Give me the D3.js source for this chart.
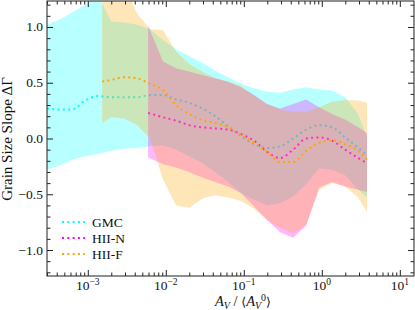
<!DOCTYPE html>
<html>
<head>
<meta charset="utf-8">
<script src="https://cdn.jsdelivr.net/npm/d3@7"></script>
<style>
    body { margin: 0; background: #fff; }
    svg { display: block; font-family: "Liberation Serif", "DejaVu Serif", serif; }
</style>
</head>
<body>
<div id="chart"></div>
<script>
// GMC
const gmcX = [0.00030, 0.000442, 0.00063, 0.000923, 0.001355, 0.00199, 0.00292, 0.00429, 0.0063, 0.00923,
    0.01355, 0.0199, 0.0292, 0.0429, 0.063, 0.0923, 0.1355, 0.199, 0.292, 0.429, 0.63, 0.923, 1.355, 1.99, 2.92, 3.80];
const gmcMean = [0.27, 0.26, 0.26, 0.34, 0.38, 0.37, 0.37, 0.37, 0.39, 0.39,
    0.35, 0.32, 0.27, 0.20, 0.11, 0.02, -0.05, -0.085, -0.07, 0.00, 0.08, 0.12, 0.10, 0.01, -0.08, -0.15];
const gmcHi = [1.02, 1.07, 1.13, 1.20, 1.29, 1.05, 1.04, 1.02, 0.98, 0.88,
    0.80, 0.74, 0.68, 0.61, 0.55, 0.49, 0.45, 0.42, 0.41, 0.44, 0.46, 0.44, 0.43, 0.37, 0.22, 0.01];
const gmcLo = [-0.28, -0.24, -0.19, -0.16, -0.14, -0.11, -0.09, -0.085, -0.07, -0.06,
    -0.10, -0.16, -0.22, -0.30, -0.39, -0.49, -0.55, -0.60, -0.58, -0.52, -0.41, -0.27, -0.28, -0.33, -0.46, -0.53];

// HII-N
const hiiNX = [0.00593, 0.00923, 0.01355, 0.0199, 0.0292, 0.0429, 0.063, 0.0923, 0.1355, 0.199,
    0.292, 0.429, 0.63, 0.923, 1.355, 1.99, 2.92, 3.80];
const hiiNMean = [0.23, 0.19, 0.16, 0.12, 0.10, 0.09, 0.08, 0.04, -0.02, -0.12,
    -0.175, -0.10, 0.00, 0.01, -0.02, -0.10, -0.175, -0.22];
const hiiNHi = [1.01, 0.69, 0.63, 0.60, 0.57, 0.54, 0.51, 0.46, 0.39, 0.31,
    0.27, 0.31, 0.35, 0.28, 0.22, 0.17, 0.10, 0.05];
const hiiNLo = [-0.17, -0.23, -0.26, -0.30, -0.35, -0.39, -0.43, -0.49, -0.61, -0.73,
    -0.84, -0.89, -0.78, -0.44, -0.39, -0.43, -0.46, -0.48];

// HII-F
const hiiFX = [0.00153, 0.00199, 0.00292, 0.00429, 0.0063, 0.00923, 0.01355, 0.0199, 0.0292, 0.0429, 0.063,
    0.0923, 0.1355, 0.199, 0.292, 0.429, 0.63, 0.923, 1.355, 1.99, 2.92, 3.80];
const hiiFMean = [0.51, 0.525, 0.55, 0.54, 0.49, 0.435, 0.30, 0.22, 0.165, 0.14, 0.10,
    0.03, -0.04, -0.12, -0.21, -0.21, -0.11, -0.04, -0.015, -0.05, -0.11, -0.19];
const hiiFHi = [1.60, 1.51, 1.38, 1.12, 0.98, 0.97, 0.78, 0.67, 0.60, 0.54, 0.51,
    0.47, 0.38, 0.31, 0.26, 0.24, 0.24, 0.28, 0.33, 0.345, 0.34, 0.32];
const hiiFLo = [0.14, 0.19, 0.18, 0.12, 0.00, -0.37, -0.60, -0.62, -0.54, -0.51, -0.53,
    -0.56, -0.63, -0.73, -0.80, -0.85, -0.78, -0.46, -0.40, -0.43, -0.53, -0.66];

const seriesNames = ["GMC", "HII-N", "HII-F"];
const seriesColors = ["#00ffff", "#ff00ff", "#ffa500"];

const yTicks = [-1.0, -0.5, 0.0, 0.5, 1.0];
const xTickExps = [-3, -2, -1, 0, 1];

const width = 415, height = 310;
const margin = { top: 1, right: 1, bottom: 34, left: 47 };

const svg = d3.select("#chart").append("svg")
    .attr("width", width)
    .attr("height", height);

const x = d3.scaleLog().domain([3.0e-4, 15.2]).range([margin.left, width - margin.right]);
const y = d3.scaleLinear().domain([-1.233, 1.233]).range([height - margin.bottom, margin.top]);

svg.append("clipPath").attr("id", "plot-clip")
    .append("rect")
    .attr("x", margin.left).attr("y", margin.top)
    .attr("width", width - margin.left - margin.right)
    .attr("height", height - margin.top - margin.bottom);

const plot = svg.append("g").attr("clip-path", "url(#plot-clip)");

const series = [
    { x: gmcX, mean: gmcMean, lo: gmcLo, hi: gmcHi },
    { x: hiiNX, mean: hiiNMean, lo: hiiNLo, hi: hiiNHi },
    { x: hiiFX, mean: hiiFMean, lo: hiiFLo, hi: hiiFHi }
];

const area = d3.area()
    .x(d => x(d.x))
    .y0(d => y(d.lo))
    .y1(d => y(d.hi));

const line = d3.line()
    .x(d => x(d.x))
    .y(d => y(d.mean))
    .curve(d3.curveMonotoneX);

series.forEach((s, i) => {
    const rows = s.x.map((v, j) => ({ x: v, mean: s.mean[j], lo: s.lo[j], hi: s.hi[j] }));

    plot.append("path")
        .datum(rows)
        .attr("d", area)
        .attr("fill", seriesColors[i])
        .attr("fill-opacity", 0.28);

    plot.append("path")
        .datum(rows)
        .attr("d", line)
        .attr("fill", "none")
        .attr("stroke", seriesColors[i])
        .attr("stroke-width", 2)
        .attr("stroke-dasharray", "2,3.3");
});

// ticks, all pointing inward on the four sides
const xMajor = xTickExps.map(e => Math.pow(10, e));
const xMinor = [];
for (let e = -4; e <= 1; e++) {
    for (let m = 2; m <= 9; m++) {
        const v = m * Math.pow(10, e);
        if (v > x.domain()[0] && v < x.domain()[1]) xMinor.push(v);
    }
}
const yMinor = d3.range(-12, 13).map(k => k / 10).filter(v => Math.abs(v * 2 - Math.round(v * 2)) > 1e-6);

function tickGroup(axis, transform) {
    const g = svg.append("g").attr("transform", transform).call(axis);
    g.select(".domain").remove();
    g.selectAll("text").remove();
    g.selectAll("line").attr("stroke", "#222");
    return g;
}

const bottomY = height - margin.bottom, rightX = width - margin.right;

tickGroup(d3.axisBottom(x).tickValues(xMajor).tickSize(-6), `translate(0,${bottomY})`);
tickGroup(d3.axisBottom(x).tickValues(xMinor).tickSize(-3.5), `translate(0,${bottomY})`);
tickGroup(d3.axisTop(x).tickValues(xMajor).tickSize(-6), `translate(0,${margin.top})`);
tickGroup(d3.axisTop(x).tickValues(xMinor).tickSize(-3.5), `translate(0,${margin.top})`);
tickGroup(d3.axisLeft(y).tickValues(yTicks).tickSize(-6), `translate(${margin.left},0)`);
tickGroup(d3.axisLeft(y).tickValues(yMinor).tickSize(-3.5), `translate(${margin.left},0)`);
tickGroup(d3.axisRight(y).tickValues(yTicks).tickSize(-6), `translate(${rightX},0)`);
tickGroup(d3.axisRight(y).tickValues(yMinor).tickSize(-3.5), `translate(${rightX},0)`);

svg.append("rect")
    .attr("x", margin.left).attr("y", margin.top)
    .attr("width", rightX - margin.left)
    .attr("height", bottomY - margin.top)
    .attr("fill", "none")
    .attr("stroke", "#333")
    .attr("stroke-width", 1.1);

// tick labels
svg.append("g").selectAll("text")
    .data(yTicks)
    .join("text")
    .attr("x", margin.left - 4)
    .attr("y", d => y(d) + 4.5)
    .attr("text-anchor", "end")
    .attr("font-size", 13.5)
    .attr("fill", "#111")
    .text(d => (d < 0 ? "\u2212" : "") + Math.abs(d).toFixed(1));

const xLabels = svg.append("g").selectAll("text")
    .data(xTickExps)
    .join("text")
    .attr("x", d => x(Math.pow(10, d)))
    .attr("y", 290)
    .attr("text-anchor", "middle")
    .attr("font-size", 13.5)
    .attr("fill", "#111");
xLabels.append("tspan").text("10");
xLabels.append("tspan")
    .attr("dy", -5.5)
    .attr("font-size", 9.5)
    .text(d => (d < 0 ? "\u2212" : "") + Math.abs(d));

// axis titles
svg.append("text")
    .attr("transform", "translate(12,139) rotate(-90)")
    .attr("text-anchor", "middle")
    .attr("font-size", 15)
    .attr("fill", "#111")
    .text("Grain Size Slope \u0394\u0393");

const xTitle = svg.append("text")
    .attr("x", 243)
    .attr("y", 306)
    .attr("text-anchor", "middle")
    .attr("font-size", 14.5)
    .attr("fill", "#111");
xTitle.append("tspan").attr("font-style", "italic").text("A");
xTitle.append("tspan").attr("font-style", "italic").attr("font-size", 10).attr("dy", 2.5).text("V");
xTitle.append("tspan").attr("dy", -2.5).text(" / ");
xTitle.append("tspan").attr("font-size", 12.5).text("\u27E8");
xTitle.append("tspan").attr("font-style", "italic").text("A");
xTitle.append("tspan").attr("font-style", "italic").attr("font-size", 10).attr("dy", 2.5).text("V");
xTitle.append("tspan").attr("font-size", 10).attr("dy", -7.5).text("0");
xTitle.append("tspan").attr("font-size", 12.5).attr("dy", 5).text("\u27E9");

// legend
const legend = svg.append("g");
seriesNames.forEach((name, i) => {
    const ly = 222 + i * 16;
    legend.append("line")
        .attr("x1", 62).attr("x2", 85)
        .attr("y1", ly).attr("y2", ly)
        .attr("stroke", seriesColors[i])
        .attr("stroke-width", 2)
        .attr("stroke-dasharray", "2,3.3");
    legend.append("text")
        .attr("x", 92)
        .attr("y", ly + 4.5)
        .attr("font-size", 13.5)
        .attr("fill", "#111")
        .text(name);
});
</script>
</body>
</html>
